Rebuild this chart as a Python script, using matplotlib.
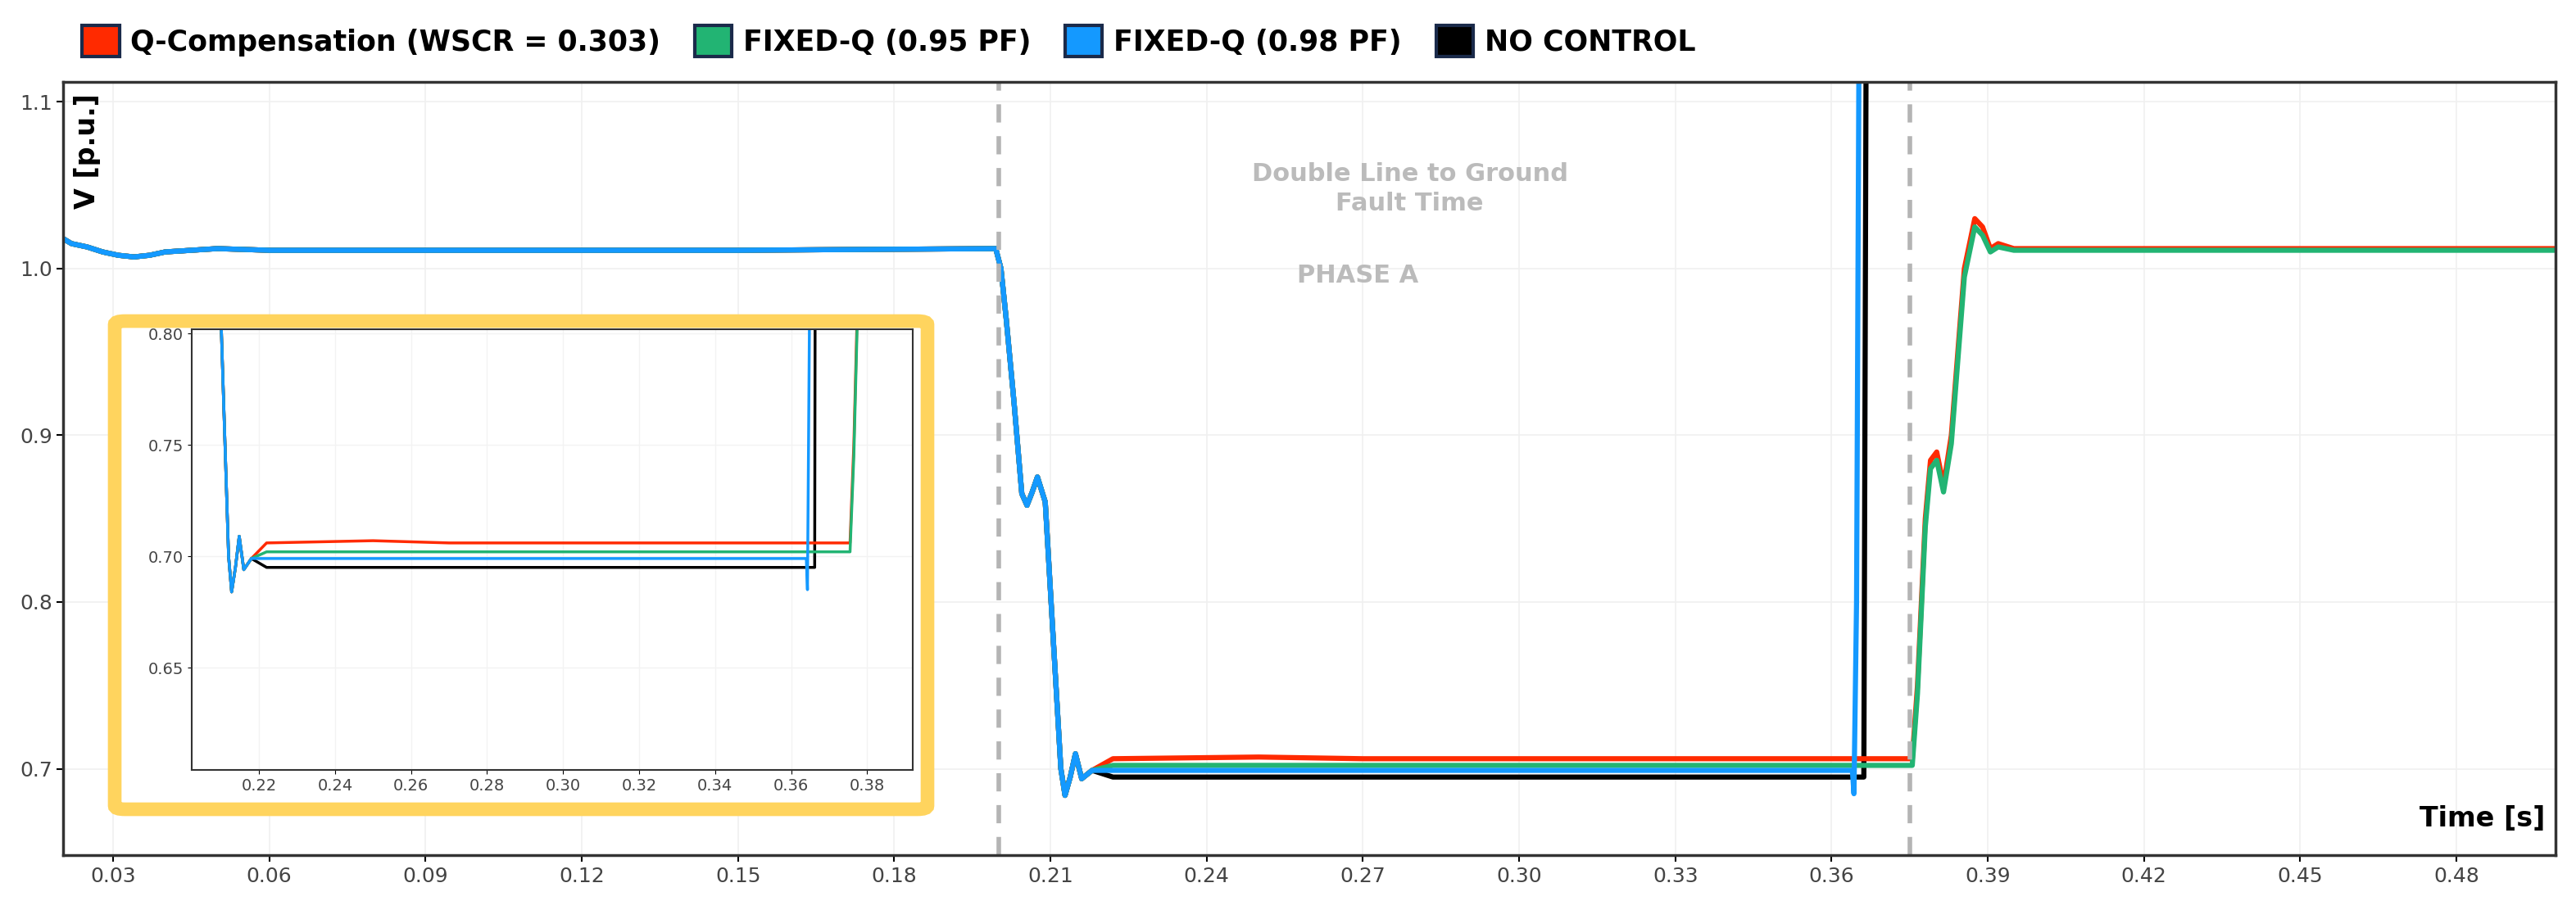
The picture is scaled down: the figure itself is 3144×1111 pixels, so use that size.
import numpy as np
import matplotlib.pyplot as plt
from matplotlib.patches import Patch, FancyBboxPatch

# shared pre-fault and fault-onset trace (all four cases overlap here)
t_pre = [0.0204, 0.022, 0.025, 0.028, 0.031, 0.034, 0.037, 0.040, 0.045, 0.050, 0.060, 0.100, 0.150, 0.1995]
v_pre = [1.018, 1.015, 1.013, 1.010, 1.008, 1.007, 1.008, 1.010, 1.011, 1.012, 1.011, 1.011, 1.011, 1.012]
t_drop = [0.2005, 0.2015, 0.203, 0.2045, 0.2055, 0.2065, 0.2075, 0.209, 0.2105, 0.212, 0.2128, 0.2138, 0.2148, 0.216, 0.218]
v_drop = [1.000, 0.970, 0.920, 0.865, 0.858, 0.866, 0.875, 0.860, 0.780, 0.700, 0.684, 0.695, 0.709, 0.694, 0.699]

# Q-Compensation (WSCR = 0.303)
t_red = [0.222, 0.250, 0.270, 0.3755, 0.3765, 0.378, 0.379, 0.3802, 0.3815, 0.383, 0.3855, 0.3875, 0.389, 0.3905, 0.392, 0.395, 0.499]
v_red = [0.706, 0.707, 0.706, 0.706, 0.750, 0.850, 0.885, 0.890, 0.870, 0.900, 1.000, 1.030, 1.025, 1.012, 1.015, 1.012, 1.012]
# FIXED-Q (0.95 PF)
t_green = [0.222, 0.250, 0.270, 0.3755, 0.3765, 0.378, 0.379, 0.3802, 0.3815, 0.383, 0.3855, 0.3875, 0.389, 0.3905, 0.392, 0.395, 0.499]
v_green = [0.702, 0.702, 0.702, 0.702, 0.745, 0.845, 0.880, 0.885, 0.866, 0.895, 0.995, 1.025, 1.020, 1.010, 1.013, 1.011, 1.011]
# FIXED-Q (0.98 PF)
t_blue = [0.222, 0.250, 0.300, 0.3640, 0.3643, 0.3648, 0.3655]
v_blue = [0.699, 0.699, 0.699, 0.699, 0.685, 0.800, 1.300]
# NO CONTROL
t_black = [0.222, 0.250, 0.300, 0.3662, 0.3668]
v_black = [0.695, 0.695, 0.695, 0.695, 1.300]

labels = ['Q-Compensation (WSCR = 0.303)', 'FIXED-Q (0.95 PF)', 'FIXED-Q (0.98 PF)', 'NO CONTROL']
colors = ['#ff2a00', '#22b473', '#1499ff', '#000000']
series = [(t_red, v_red), (t_green, v_green), (t_blue, v_blue), (t_black, v_black)]
draw_order = [3, 0, 1, 2]

fault_start, fault_end = 0.2, 0.375

fig = plt.figure(figsize=(31.44, 11.11), dpi=100)
ax = fig.add_axes([0.0245, 0.06, 0.9675, 0.85])

def full(i):
    t, v = series[i]
    return t_pre + t_drop + t, v_pre + v_drop + v

for i in draw_order:
    t, v = full(i)
    ax.plot(t, v, color=colors[i], lw=4.5, solid_joinstyle='round')

ax.axvline(fault_start, color='#b4b4b4', ls=(0, (4, 3)), lw=4)
ax.axvline(fault_end, color='#b4b4b4', ls=(0, (4, 3)), lw=4)
ax.set_xlim(0.0204, 0.499)
ax.set_ylim(0.648, 1.112)
ax.set_xticks(np.arange(0.03, 0.481, 0.03))
ax.set_xticklabels([f'{x:.2f}' for x in np.arange(0.03, 0.481, 0.03)])
ax.set_yticks([0.7, 0.8, 0.9, 1.0, 1.1])
ax.tick_params(labelsize=18, labelcolor='#444444', length=6, width=1.5)
ax.grid(color='#f0f0f0', lw=1.2)
for s in ax.spines.values():
    s.set_color('#333333')
    s.set_linewidth(2.5)

ax.text(0.0225, 1.105, 'V [p.u.]', rotation=90, fontsize=24, fontweight='bold', va='top', ha='left')
ax.text(0.497, 0.662, 'Time [s]', fontsize=24, fontweight='bold', ha='right', va='bottom')
ax.text(0.279, 1.048, 'Double Line to Ground\nFault Time', fontsize=22, fontweight='bold',
        color='#bbbbbb', ha='center', va='center', linespacing=1.3)
ax.text(0.269, 0.996, 'PHASE A', fontsize=22, fontweight='bold', color='#bbbbbb', ha='center', va='center')

handles = [Patch(facecolor=c, edgecolor='#1a2a4a', lw=3) for c in colors]
fig.legend(handles, labels, loc='upper left', bbox_to_anchor=(0.022, 1.0), ncol=4, frameon=False,
           fontsize=25, handlelength=1.3, handleheight=1.3, columnspacing=1.2, handletextpad=0.4,
           prop={'weight': 'semibold', 'size': 25})

# zoom inset with yellow frame
frame = FancyBboxPatch((140 / 3144, 1 - 988 / 1111), 992 / 3144, 596 / 1111,
                       boxstyle='round,pad=0,rounding_size=0.004', transform=fig.transFigure,
                       facecolor='white', edgecolor='#ffd45e', lw=12, zorder=5)
fig.patches.append(frame)
ins = fig.add_axes([234 / 3144, 1 - 940 / 1111, 880 / 3144, 538 / 1111], zorder=6)
for i in draw_order:
    t, v = full(i)
    ins.plot(t, v, color=colors[i], lw=2.5)
ins.set_xlim(0.2023, 0.392)
ins.set_ylim(0.604, 0.802)
ins.set_xticks(np.arange(0.22, 0.381, 0.02))
ins.set_xticklabels([f'{x:.2f}' for x in np.arange(0.22, 0.381, 0.02)])
ins.set_yticks([0.65, 0.70, 0.75, 0.80])
ins.set_yticklabels(['0.65', '0.70', '0.75', '0.80'])
ins.tick_params(labelsize=14, labelcolor='#444444')
ins.grid(color='#f3f3f3', lw=1)
for s in ins.spines.values():
    s.set_color('#333333')
    s.set_linewidth(1.5)

fig.savefig('out.png', dpi=100)
